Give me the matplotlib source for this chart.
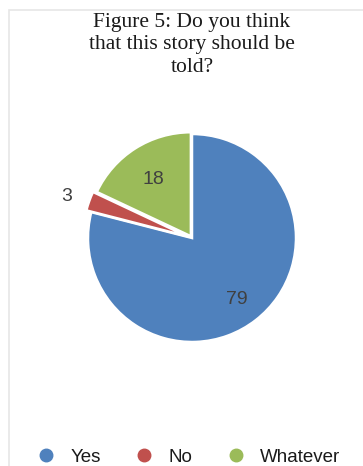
import numpy as np
import matplotlib
matplotlib.use("Agg")
import matplotlib.pyplot as plt
from matplotlib.lines import Line2D
from matplotlib.patches import Rectangle

categories = ['Yes', 'No', 'Whatever']
values = [79, 3, 18]
colors = ['#4F81BD', '#C0504D', '#9BBB59']
title = 'Figure 5: Do you think\nthat this story should be\ntold?'

W, H = 363, 466
fig = plt.figure(figsize=(W / 100, H / 100), dpi=100)
fig.patch.set_facecolor('white')

# light frame around the chart area
fig.add_artist(Rectangle((8.5 / W, -0.1), 1.2, 1 - 9.5 / H + 0.1,
                         transform=fig.transFigure, fill=False,
                         edgecolor='#e6e6e6', lw=1.2))

fig.text(192 / W, 1 - 12.5 / H, title, ha='center', va='top',
         family='Liberation Serif', fontsize=15.5, linespacing=1.25,
         color='#1a1a1a')

cx, cy, r = 192, 238, 104
ax = fig.add_axes([(cx - r) / W, (H - cy - r) / H, 2 * r / W, 2 * r / H])
wedges, _ = ax.pie(values, colors=colors, startangle=90, counterclock=False,
                   explode=[0, 0.05, 0.02],
                   wedgeprops=dict(edgecolor='white', linewidth=1.8))
ax.set_xlim(-1, 1)
ax.set_ylim(-1, 1)
ax.set_aspect('auto')
ax.axis('off')

label_dist = [0.71, 1.28, 0.70]
for w, v, d in zip(wedges, values, label_dist):
    ang = np.deg2rad((w.theta1 + w.theta2) / 2)
    ax.text(d * np.cos(ang), d * np.sin(ang) - 0.03, str(v), ha='center', va='center',
            family='Liberation Sans', fontsize=14, color='#404040')

handles = [Line2D([], [], ls='none', marker='o', markersize=9,
                  markerfacecolor=c, markeredgecolor=c) for c in colors]
fig.legend(handles, categories, loc='center left', bbox_to_anchor=(20 / W, 1 - 457 / H),
           ncol=3, frameon=False, handlelength=1.0, handletextpad=0.8,
           columnspacing=1.8, prop=dict(family='Liberation Sans', size=13.5),
           labelcolor='#1a1a1a')

fig.savefig('out.png', dpi=100)
